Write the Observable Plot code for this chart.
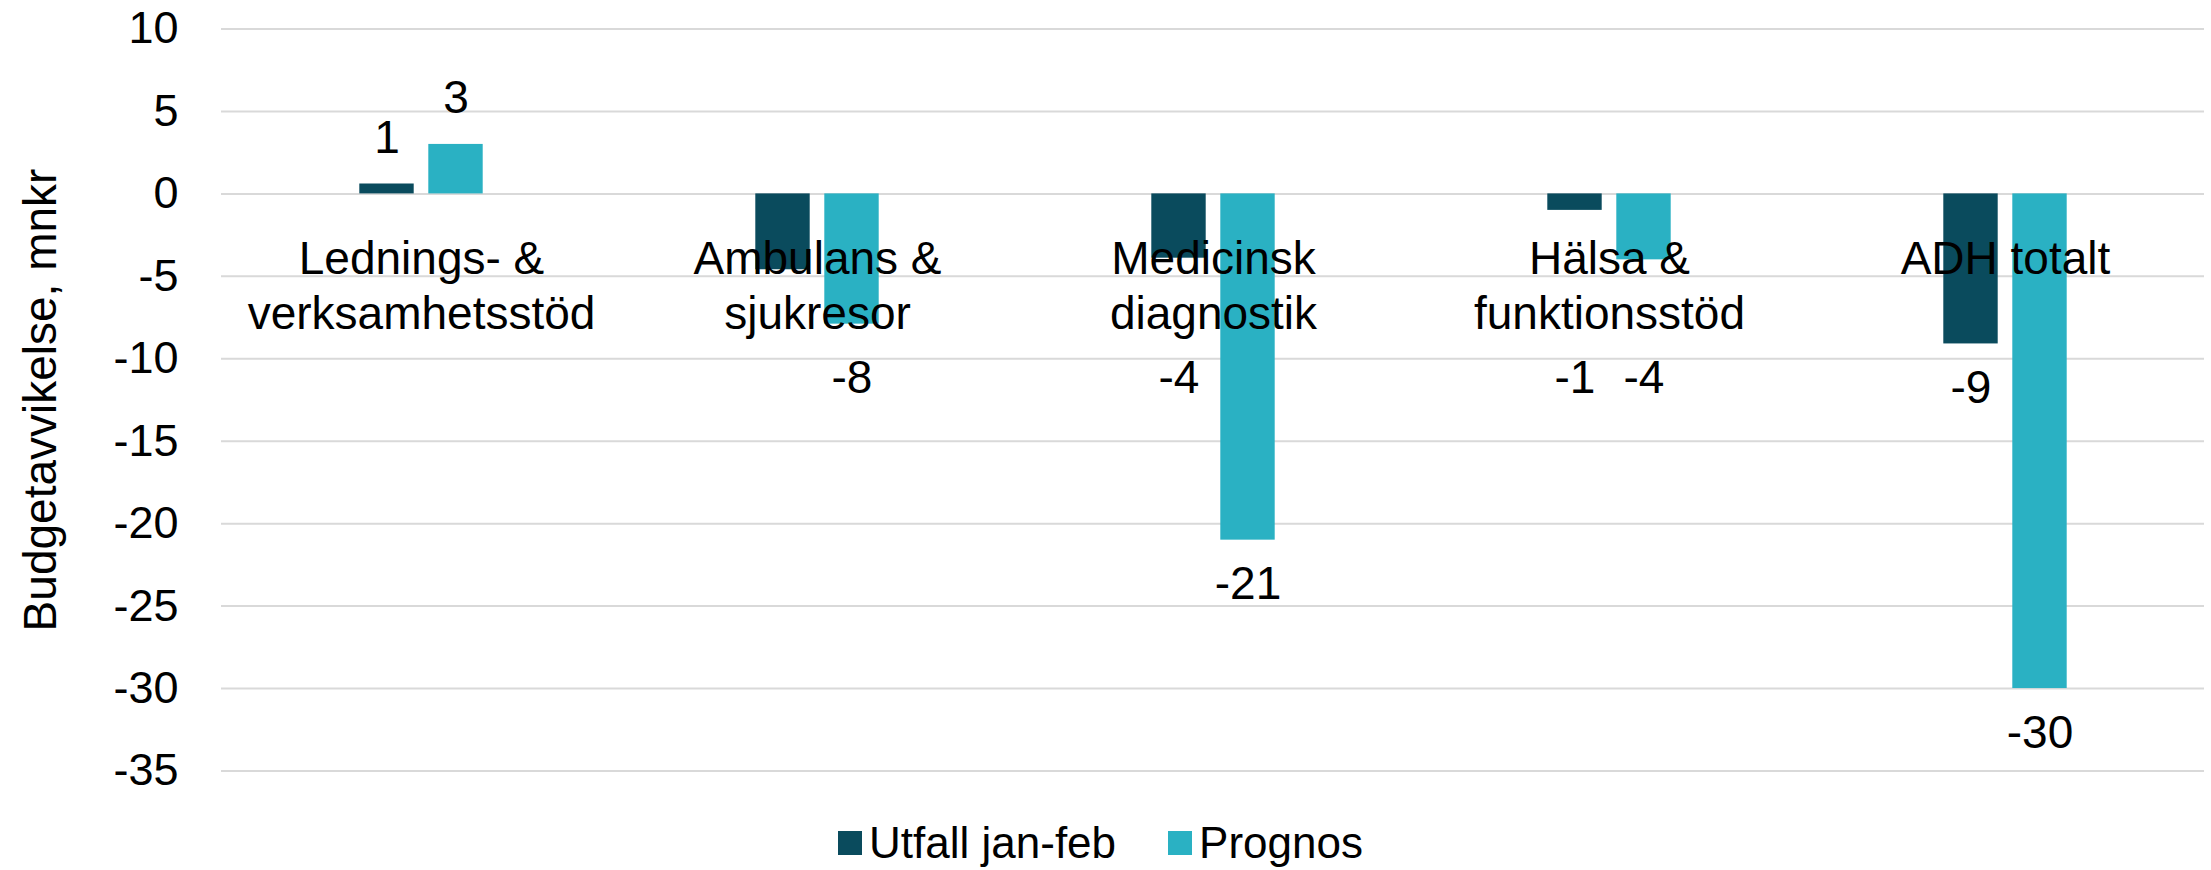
<!DOCTYPE html>
<html>
<head>
<meta charset="utf-8">
<script src="https://cdn.jsdelivr.net/npm/d3@7"></script>
<script src="https://cdn.jsdelivr.net/npm/@observablehq/plot@0.6"></script>
<style>
  html, body { margin: 0; padding: 0; background: #fff; }
  #wrap { position: relative; width: 2211px; height: 870px; font-family: "Liberation Sans", Arial, sans-serif; }
  #legend { position: absolute; left: 0; top: 821px; width: 2211px; height: 44px; display: flex; justify-content: center; align-items: center; padding-right: 10px; box-sizing: border-box; font-size: 44px; color: #000; }
  .item { display: flex; align-items: center; margin: 0 26px; }
  .sw { width: 24px; height: 24px; margin-right: 7px; }
</style>
</head>
<body>
<div id="wrap"><div id="chart"></div><div id="legend"></div></div>
<script>
const categories = ["Lednings- &\nverksamhetsstöd", "Ambulans &\nsjukresor", "Medicinsk\ndiagnostik", "Hälsa &\nfunktionsstöd", "ADH totalt"];
const series = ["Utfall jan-feb", "Prognos"];
const colors = ["#0a4b5d", "#2ab1c3"];
const utfall = [0.6, -4.6, -3.9, -1.0, -9.1];
const prognos = [3.0, -7.9, -21.0, -4.0, -30.0];
const utfallLabels = ["1", "", "-4", "-1", "-9"];
const prognosLabels = ["3", "-8", "-21", "-4", "-30"];
const yTicks = [10, 5, 0, -5, -10, -15, -20, -25, -30, -35];
const yTitle = "Budgetavvikelse, mnkr";

const rowsFor = (vals, labels, s) => categories.map((c, i) => ({cat: c, v: vals[i], label: labels[i], s}));
const rowsU = rowsFor(utfall, utfallLabels, series[0]);
const rowsP = rowsFor(prognos, prognosLabels, series[1]);
const labelY = d => d.v > 0 ? d.v + 2.8 : Math.min(d.v - 2.7, -11.2);

const bandHalf = (2211 - 221 - 7) / categories.length / 2;
const outer = 62, inner = 7;
const barW = outer - inner;

const plot = Plot.plot({
  width: 2211,
  height: 800,
  marginLeft: 221,
  marginRight: 7,
  marginTop: 28.5,
  marginBottom: 29.5,
  style: {fontFamily: "'Liberation Sans', Arial, sans-serif", fontSize: "45px", color: "#000", background: "#fff"},
  x: {domain: categories, padding: 0, axis: null},
  y: {domain: [-35, 10], ticks: yTicks, tickSize: 0, tickPadding: 43, tickFormat: d => String(d), label: null},
  color: {domain: series, range: colors},
  marks: [
    Plot.ruleY(yTicks, {stroke: "#d9d9d9", strokeWidth: 2}),
    Plot.barY(rowsU, {x: "cat", y: "v", fill: "s", insetLeft: bandHalf - outer, insetRight: bandHalf + inner}),
    Plot.barY(rowsP, {x: "cat", y: "v", fill: "s", insetLeft: bandHalf + inner, insetRight: bandHalf - outer}),
    Plot.text(categories, {x: d => d, y: () => 0, text: d => d, lineAnchor: "top", dy: 41, fontSize: 46, lineHeight: 1.2, fill: "#000"}),
    Plot.text(rowsU, {x: "cat", y: labelY, text: "label", dx: -(inner + barW / 2), fontSize: 46, lineAnchor: "middle", fill: "#000"}),
    Plot.text(rowsP, {x: "cat", y: labelY, text: "label", dx: (inner + barW / 2), fontSize: 46, lineAnchor: "middle", fill: "#000"}),
    Plot.text([yTitle], {frameAnchor: "left", rotate: -90, dx: -180, fontSize: 46, textAnchor: "middle", lineAnchor: "middle", fill: "#000"})
  ]
});
document.getElementById("chart").appendChild(plot);

const color = plot.scale("color");
const legend = document.getElementById("legend");
series.forEach((s, i) => {
  const item = document.createElement("div");
  item.className = "item";
  const sw = document.createElement("div");
  sw.className = "sw";
  sw.style.background = color.range[i];
  const t = document.createElement("span");
  t.textContent = s;
  item.appendChild(sw);
  item.appendChild(t);
  legend.appendChild(item);
});
</script>
</body>
</html>
